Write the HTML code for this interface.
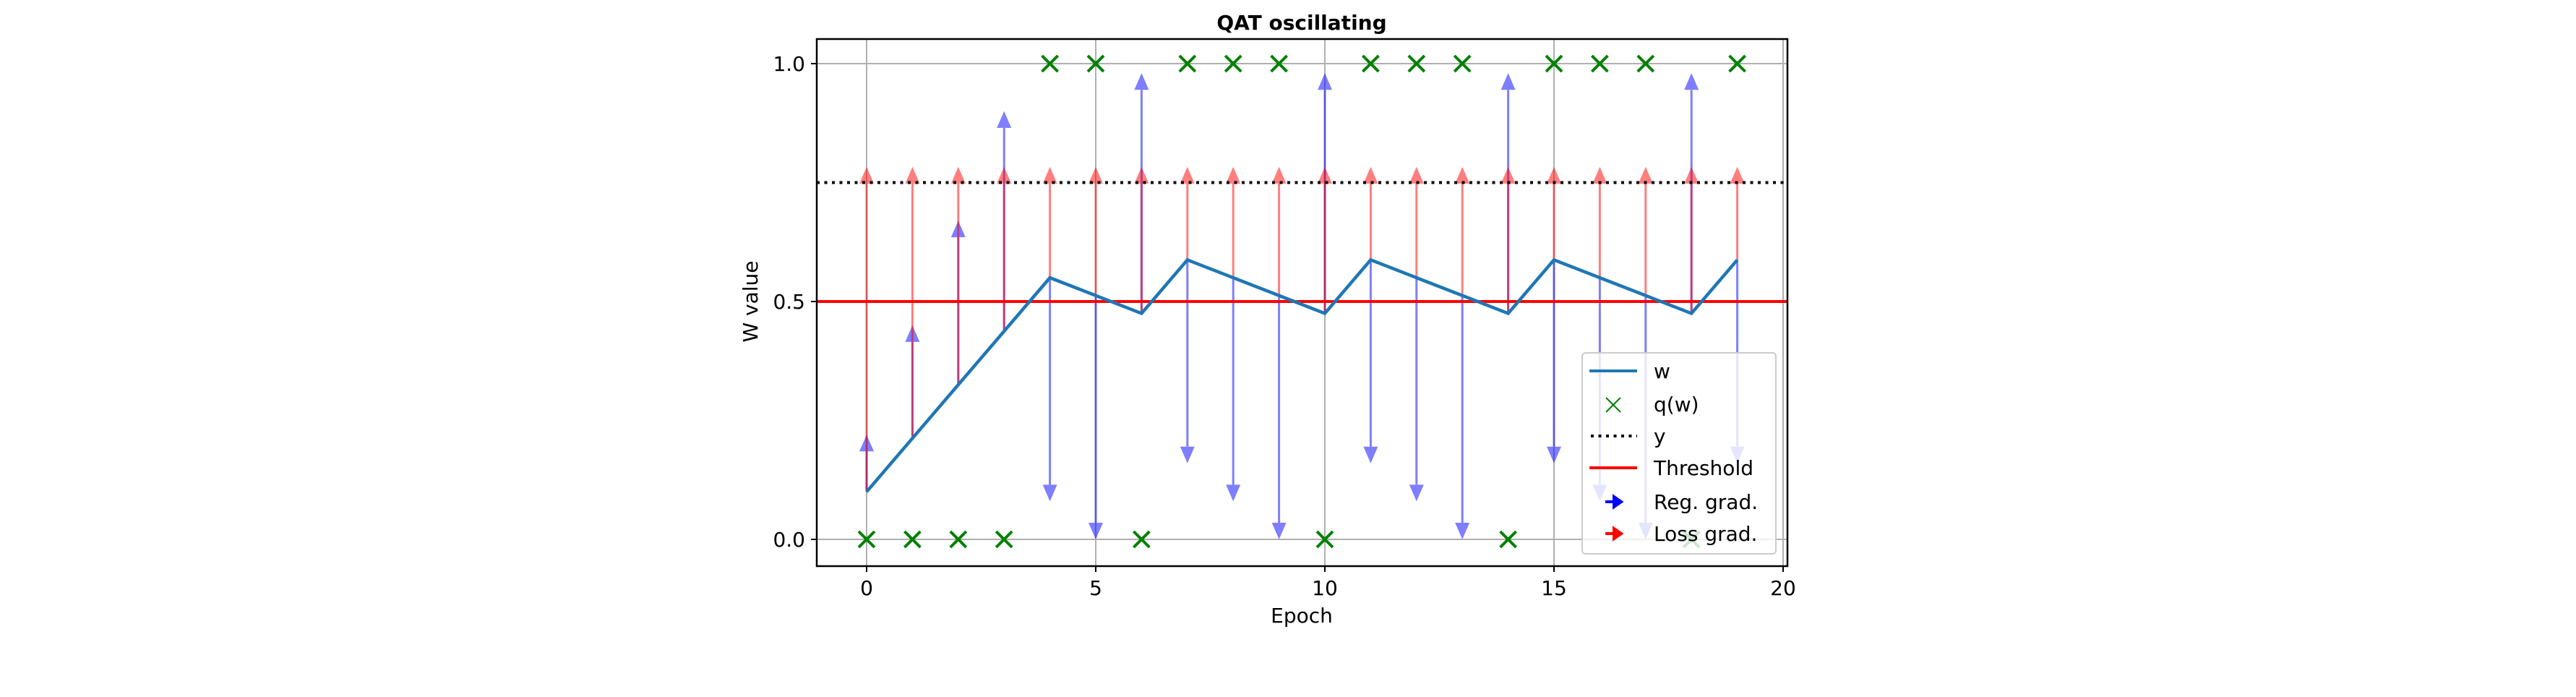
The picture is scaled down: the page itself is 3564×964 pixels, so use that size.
<!DOCTYPE html>
<html><head><meta charset="utf-8"><style>
html,body{margin:0;padding:0;background:#fff;}
svg{display:block;font-family:"DejaVu Sans","Liberation Sans",sans-serif;}
</style></head><body>
<svg id="chart" width="3564" height="964" viewBox="0 0 3564 964" xmlns="http://www.w3.org/2000/svg">
<g id="grid"></g>
<g id="marks"></g>
<rect x="1130" y="54" width="1343" height="729" fill="none" stroke="#000" stroke-width="2.5"/>
<g id="ticks"></g>
<text x="1801" y="41" font-size="28" font-weight="bold" text-anchor="middle">QAT oscillating</text>
<text x="1801" y="861" font-size="28" text-anchor="middle">Epoch</text>
<text transform="translate(1048,417) rotate(-90)" font-size="28" text-anchor="middle">W value</text>
<g id="legend">
<rect x="2189" y="488" width="268" height="278" rx="5" fill="#fff" fill-opacity="0.8" stroke="#ccc" stroke-width="2"/>
<line x1="2199" y1="513" x2="2265" y2="513" stroke="#1f77b4" stroke-width="4"/>
<text x="2288" y="523" font-size="28">w</text>
<path d="M2222 550 L2242 570 M2242 550 L2222 570" stroke="green" stroke-width="2"/>
<text x="2288" y="569" font-size="28">q(w)</text>
<line x1="2201" y1="603" x2="2265" y2="603" stroke="#000" stroke-width="4" stroke-dasharray="4,6.5"/>
<text x="2288" y="613" font-size="28">y</text>
<line x1="2199" y1="647" x2="2265" y2="647" stroke="#ff0000" stroke-width="4"/>
<text x="2288" y="657" font-size="28">Threshold</text>
<path d="M2221 694 H2236 M2233 687 L2243 694 L2233 701 Z" stroke="#0000ff" stroke-width="4" fill="#0000ff"/>
<text x="2288" y="704" font-size="28">Reg. grad.</text>
<path d="M2221 738 H2236 M2233 731 L2243 738 L2233 745 Z" stroke="#ff0000" stroke-width="4" fill="#ff0000"/>
<text x="2288" y="748" font-size="28">Loss grad.</text>
</g>
<script>
const epochs=[0,1,2,3,4,5,6,7,8,9,10,11,12,13,14,15,16,17,18,19];
const wValues=[0.1,0.2125,0.325,0.4375,0.55,0.5125,0.475,0.5875,0.55,0.5125,0.475,0.5875,0.55,0.5125,0.475,0.5875,0.55,0.5125,0.475,0.5875];
const qValues=[0,0,0,0,1,1,0,1,1,1,0,1,1,1,0,1,1,1,0,1];
const regTips=[0.22,0.45,0.67,0.9,0.08,0.0,0.98,0.16,0.08,0.0,0.98,0.16,0.08,0.0,0.98,0.16,0.08,0.0,0.98,0.16];
const lossTips=[0.783,0.783,0.783,0.783,0.783,0.783,0.783,0.783,0.783,0.783,0.783,0.783,0.783,0.783,0.783,0.783,0.783,0.783,0.783,0.783];
const yTarget=0.75;
const threshold=0.5;
const xTicks=[0,5,10,15,20];
const yTicks=[0.0,0.5,1.0];
const xTickLabels=["0","5","10","15","20"];
const yTickLabels=["0.0","0.5","1.0"];

const X=v=>1199+v*63.4;
const Y=v=>746-v*658;
const NS="http://www.w3.org/2000/svg";
function mk(parent,tag,attrs){const e=document.createElementNS(NS,tag);for(const k in attrs)e.setAttribute(k,attrs[k]);parent.appendChild(e);return e;}
const grid=document.getElementById('grid'),marks=document.getElementById('marks'),ticks=document.getElementById('ticks');
const L=1130,R=2473,T=54,B=783;
xTicks.forEach((t,i)=>{
  const g=mk(grid,'line',{x1:X(t),x2:X(t),y1:T,y2:B,stroke:'#b0b0b0','stroke-width':2});
  
  
  const tk=mk(ticks,'line',{x1:X(t),x2:X(t),y1:B,y2:B+8,stroke:'#000','stroke-width':2});
  
  
  const tx=mk(ticks,'text',{x:X(t),y:B+40,'font-size':28,'text-anchor':'middle'});
  tx.textContent=xTickLabels[i];
  
  
});
yTicks.forEach((t,i)=>{
  const g=mk(grid,'line',{x1:L,x2:R,y1:Y(t),y2:Y(t),stroke:'#b0b0b0','stroke-width':2});
  
  
  const tk=mk(ticks,'line',{x1:L-8,x2:L,y1:Y(t),y2:Y(t),stroke:'#000','stroke-width':2});
  
  
  const tx=mk(ticks,'text',{x:L-16,y:Y(t)+10,'font-size':28,'text-anchor':'end'});
  tx.textContent=yTickLabels[i];
  
  
});
function arrow(x,from,tip,color,name){
  const dir=tip>from?1:-1;
  const headLen=0.035;
  const base=tip-dir*headLen;
  const g=mk(marks,'g',{opacity:0.5});
  
  
  mk(g,'line',{x1:X(x),x2:X(x),y1:Y(from),y2:Y(base),stroke:color,'stroke-width':3});
  mk(g,'path',{d:`M${X(x)-10} ${Y(base)} L${X(x)+10} ${Y(base)} L${X(x)} ${Y(tip)} Z`,fill:color});
}
epochs.forEach((e,i)=>arrow(e,wValues[i],regTips[i],'#0000ff','reg-grad-arrow'));
epochs.forEach((e,i)=>arrow(e,wValues[i],lossTips[i],'#ff0000','loss-grad-arrow'));
const yl=mk(marks,'line',{x1:L,x2:R,y1:Y(yTarget),y2:Y(yTarget),stroke:'#000','stroke-width':4,'stroke-dasharray':'4,6.5'});


const th=mk(marks,'line',{x1:L,x2:R,y1:Y(threshold),y2:Y(threshold),stroke:'#ff0000','stroke-width':4});


const wl=mk(marks,'polyline',{points:epochs.map((e,i)=>X(e)+','+Y(wValues[i])).join(' '),fill:'none',stroke:'#1f77b4','stroke-width':4.5,'stroke-linejoin':'miter'});


epochs.forEach((e,i)=>{
  const x=X(e),y=Y(qValues[i]);
  const m=mk(marks,'path',{d:`M${x-11} ${y-11} L${x+11} ${y+11} M${x+11} ${y-11} L${x-11} ${y+11}`,stroke:'green','stroke-width':4});
  
  
});
</script>
</svg>
</body></html>
